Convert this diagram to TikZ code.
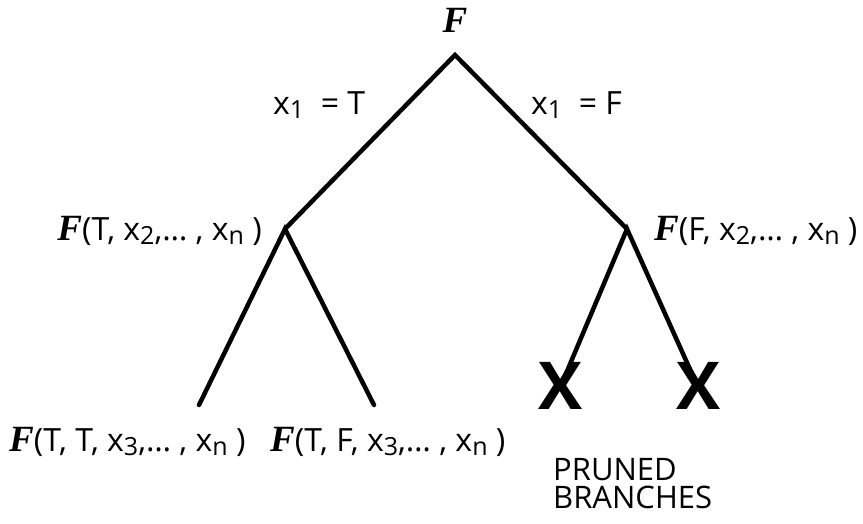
\documentclass[tikz,border=0pt]{standalone}
\usepackage{fontspec}
\setmainfont{Open Sans}
\newfontfamily\ffont{Liberation Serif}
\newcommand{\FF}{{\ffont\bfseries\itshape\fontsize{37}{37}\selectfont F}}
\newcommand{\sbs}[1]{\raisebox{-0.25ex}{\fontsize{25}{25}\selectfont #1}}
\begin{document}
\begin{tikzpicture}[x=1pt,y=-1pt,
  branch/.style={line width=4.5pt,line cap=round,line join=miter},
  lbl/.style={font=\fontsize{32}{34}\selectfont,inner sep=0pt},
  xmark/.style={font=\fontsize{66}{66}\selectfont\bfseries,inner sep=0pt}]
\useasboundingbox (0,0) rectangle (863,524);
% vertices
\coordinate (r) at (455,55);
\coordinate (a) at (285,229);
\coordinate (b) at (627,229);
\coordinate (aa) at (199,405);
\coordinate (ab) at (374,405);
% labels
\node[lbl] (rl) at (455,20) {\FF};
\node[lbl,anchor=west] (et) at (273,105) {x\sbs{1}\ \ = T};
\node[lbl,anchor=west] (ef) at (531,105) {x\sbs{1}\ \ = F};
\node[lbl,anchor=east] (al) at (262,231) {\FF(T, x\sbs{2},\ldots\ , x\sbs{n} )};
\node[lbl,anchor=west] (bl) at (654,231) {\FF(F, x\sbs{2},\ldots\ , x\sbs{n} )};
\node[lbl,anchor=west] (aal) at (9,442) {\FF(T, T, x\sbs{3},\ldots\ , x\sbs{n} )};
\node[lbl,anchor=west] (abl) at (270,442) {\FF(T, F, x\sbs{3},\ldots\ , x\sbs{n} )};
\node[lbl,anchor=north west,align=left,font=\fontsize{31}{28}\selectfont] (pr) at (553,458) {PRUNED\\BRANCHES};
\node[xmark] (x1) at (561,386) {X};
\node[xmark] (x2) at (699,386) {X};
% branches
\draw[branch] (a) -- (r) -- (b);
\draw[branch] (aa) -- (a) -- (ab);
\path (x1.center) ++(4,-10) coordinate (xe1);
\path (x2.center) ++(-6,-10) coordinate (xe2);
\draw[branch] (xe1) -- (b) -- (xe2);
\end{tikzpicture}
\end{document}
